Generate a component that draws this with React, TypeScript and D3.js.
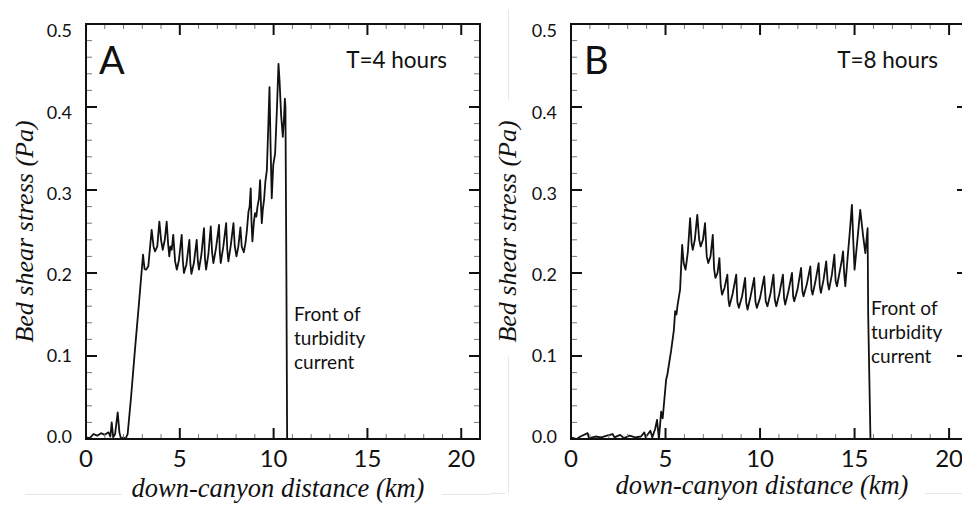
import React from "react";
import * as d3 from "d3";

// ---------- data ----------
const distA = [0, 0.2, 0.4, 0.6, 0.8, 1.0, 1.2, 1.3, 1.37, 1.45, 1.55, 1.69, 1.78, 1.87, 2.0, 2.1, 2.22, 2.4, 2.6, 2.81, 3.04, 3.12, 3.2, 3.32, 3.5, 3.6, 3.68, 3.8, 3.91, 4.0, 4.09, 4.2, 4.3, 4.38, 4.44, 4.5, 4.57, 4.65, 4.75, 4.84, 4.95, 5.1, 5.16, 5.22, 5.35, 5.51, 5.56, 5.62, 5.75, 5.9, 5.96, 6.02, 6.15, 6.29, 6.34, 6.4, 6.52, 6.65, 6.72, 6.79, 6.93, 7.09, 7.13, 7.18, 7.32, 7.47, 7.53, 7.59, 7.72, 7.86, 7.93, 8.02, 8.12, 8.23, 8.3, 8.41, 8.5, 8.57, 8.66, 8.72, 8.78, 8.82, 8.87, 8.95, 9.01, 9.08, 9.14, 9.22, 9.28, 9.33, 9.37, 9.43, 9.49, 9.56, 9.64, 9.72, 9.78, 9.84, 9.9, 9.98, 10.08, 10.18, 10.26, 10.32, 10.4, 10.49, 10.55, 10.6, 10.63, 10.68, 10.72, 21];
const stressA = [0.002, 0.001, 0.006, 0.004, 0.007, 0.005, 0.008, 0.003, 0.02, 0.002, 0.006, 0.032, 0.008, 0.0, 0.002, 0.0, 0.006, 0.05, 0.105, 0.16, 0.222, 0.205, 0.204, 0.208, 0.252, 0.232, 0.226, 0.232, 0.262, 0.24, 0.228, 0.24, 0.262, 0.234, 0.22, 0.232, 0.228, 0.246, 0.214, 0.204, 0.215, 0.246, 0.215, 0.2, 0.21, 0.24, 0.212, 0.199, 0.212, 0.24, 0.215, 0.204, 0.222, 0.254, 0.218, 0.204, 0.222, 0.256, 0.225, 0.212, 0.23, 0.258, 0.226, 0.212, 0.232, 0.26, 0.228, 0.214, 0.234, 0.26, 0.232, 0.22, 0.232, 0.255, 0.232, 0.225, 0.236, 0.25, 0.274, 0.28, 0.302, 0.262, 0.238, 0.262, 0.272, 0.268, 0.28, 0.29, 0.312, 0.28, 0.26, 0.278, 0.288, 0.31, 0.324, 0.38, 0.424, 0.35, 0.29, 0.33, 0.344, 0.4, 0.452, 0.43, 0.39, 0.364, 0.385, 0.41, 0.4, 0.2, 0.0, 0.0];

const distB = [0, 0.3, 0.5, 0.88, 0.95, 1.3, 1.6, 1.9, 2.2, 2.3, 2.6, 2.8, 3.1, 3.4, 3.7, 3.88, 3.95, 4.2, 4.3, 4.45, 4.55, 4.65, 4.77, 4.85, 5.03, 5.1, 5.3, 5.44, 5.51, 5.58, 5.63, 5.77, 5.88, 5.96, 6.06, 6.18, 6.3, 6.38, 6.44, 6.55, 6.68, 6.78, 6.86, 6.98, 7.09, 7.18, 7.26, 7.38, 7.5, 7.57, 7.64, 7.75, 7.85, 7.92, 7.99, 8.12, 8.27, 8.33, 8.38, 8.55, 8.74, 8.8, 8.88, 9.05, 9.21, 9.27, 9.34, 9.5, 9.69, 9.76, 9.83, 10.0, 10.22, 10.3, 10.39, 10.55, 10.71, 10.78, 10.86, 11.02, 11.21, 11.27, 11.33, 11.5, 11.69, 11.75, 11.81, 11.98, 12.17, 12.24, 12.3, 12.47, 12.66, 12.72, 12.78, 12.93, 13.1, 13.16, 13.22, 13.36, 13.5, 13.58, 13.65, 13.8, 13.93, 14.0, 14.07, 14.2, 14.33, 14.39, 14.45, 14.51, 14.63, 14.75, 14.86, 14.93, 15.0, 15.15, 15.3, 15.45, 15.57, 15.69, 15.72, 15.84, 21];
const stressB = [0.002, 0.0, 0.003, 0.007, 0.001, 0.003, 0.002, 0.004, 0.006, 0.002, 0.005, 0.001, 0.004, 0.002, 0.003, 0.008, 0.002, 0.01, 0.002, 0.012, 0.023, 0.0, 0.033, 0.025, 0.071, 0.078, 0.107, 0.131, 0.154, 0.15, 0.16, 0.18, 0.234, 0.212, 0.204, 0.225, 0.266, 0.236, 0.228, 0.24, 0.27, 0.24, 0.232, 0.24, 0.26, 0.22, 0.212, 0.22, 0.246, 0.205, 0.194, 0.2, 0.218, 0.185, 0.174, 0.182, 0.198, 0.168, 0.16, 0.175, 0.198, 0.165, 0.158, 0.172, 0.194, 0.164, 0.156, 0.172, 0.194, 0.165, 0.158, 0.17, 0.196, 0.166, 0.16, 0.175, 0.198, 0.168, 0.16, 0.175, 0.198, 0.17, 0.162, 0.178, 0.2, 0.172, 0.166, 0.18, 0.206, 0.178, 0.172, 0.186, 0.208, 0.18, 0.174, 0.19, 0.212, 0.184, 0.176, 0.192, 0.214, 0.188, 0.18, 0.198, 0.222, 0.19, 0.184, 0.2, 0.216, 0.226, 0.2, 0.184, 0.218, 0.25, 0.282, 0.24, 0.204, 0.24, 0.276, 0.245, 0.224, 0.254, 0.15, 0.0, 0.0];

const xTickValues = [0, 5, 10, 15, 20];
const yTickValues = [0, 0.1, 0.2, 0.3, 0.4, 0.5];
const yTickLabels = ["0.0", "0.1", "0.2", "0.3", "0.4", "0.5"];
const panelLetters = ["A", "B"];
const timeLabels = ["T=4 hours", "T=8 hours"];
const frontLabelLines = ["Front of", "turbidity", "current"];
const xTitle = "down-canyon distance (km)";
const yTitle = "Bed shear stress (Pa)";

const SANS = "Lato, 'Open Sans', sans-serif";
const SERIF = "'Liberation Serif', 'DejaVu Serif', serif";

type PanelProps = {
  left: number;
  width: number;
  dist: number[];
  stress: number[];
  letter: string;
  time: string;
  timeRight: number;
  frontX: number;
  frontY: number;
  xTitleX: number;
  xTitleY: number;
  yTitleX: number;
};

const TOP = 24;
const BOTTOM = 439;

function Panel(p: PanelProps) {
  const x = d3.scaleLinear().domain([0, 21]).range([p.left, p.left + p.width]);
  const y = d3.scaleLinear().domain([0, 0.5]).range([BOTTOM, TOP]);
  const yLab = d3.scaleLinear().domain([0, 0.5]).range([437, 31]);
  const line = d3
    .line<number>()
    .x((d, i) => x(p.dist[i]))
    .y((d) => y(d))
    .curve(d3.curveLinear);
  const minorX = d3.range(0, 22, 1).filter((v) => v % 5 !== 0);
  const minorY = d3.range(0, 26, 1).map((v) => v * 0.02).filter((v, i) => i % 5 !== 0);
  const right = p.left + p.width;
  return (
    <g>
      <path d={line(p.stress) || ""} fill="none" stroke="#111" strokeWidth={1.8} strokeLinejoin="round" />
      {minorX.map((v) => (
        <g key={"mx" + v} stroke="#777" strokeWidth={1}>
          <line x1={x(v)} x2={x(v)} y1={BOTTOM} y2={BOTTOM - 5} />
          <line x1={x(v)} x2={x(v)} y1={TOP} y2={TOP + 5} />
        </g>
      ))}
      {minorY.map((v, i) => (
        <g key={"my" + i} stroke="#777" strokeWidth={1}>
          <line x1={p.left} x2={p.left + 6} y1={y(v)} y2={y(v)} />
          <line x1={right} x2={right - 6} y1={y(v)} y2={y(v)} />
        </g>
      ))}
      {xTickValues.map((v) => (
        <g key={"Mx" + v} stroke="#111" strokeWidth={2}>
          <line x1={x(v)} x2={x(v)} y1={BOTTOM} y2={BOTTOM - 11} />
          <line x1={x(v)} x2={x(v)} y1={TOP} y2={TOP + 11} />
        </g>
      ))}
      {yTickValues.map((v) => (
        <g key={"My" + v} stroke="#111" strokeWidth={2}>
          <line x1={p.left} x2={p.left + 11} y1={y(v)} y2={y(v)} />
          <line x1={right} x2={right - 11} y1={y(v)} y2={y(v)} />
        </g>
      ))}
      <rect x={p.left} y={TOP} width={p.width} height={BOTTOM - TOP} fill="none" stroke="#111" strokeWidth={2} />
      {xTickValues.map((v) => (
        <text key={"lx" + v} x={x(v)} y={467} textAnchor="middle" fontFamily={SANS} fontSize={24} fill="#111">
          {String(v)}
        </text>
      ))}
      {yTickValues.map((v, i) => (
        <text key={"ly" + v} x={p.left - 14} y={yLab(v)} dy="0.35em" textAnchor="end" fontFamily={SANS} fontSize={18} fill="#111">
          {yTickLabels[i]}
        </text>
      ))}
      <text x={p.left + 13} y={74} fontFamily={SANS} fontSize={38} fill="#111">
        {p.letter}
      </text>
      <text x={p.timeRight} y={68} textAnchor="end" fontFamily={SANS} fontSize={22.5} fill="#111">
        {p.time}
      </text>
      {frontLabelLines.map((s, i) => (
        <text key={s} x={p.frontX} y={p.frontY + i * 24} fontFamily={SANS} fontSize={19} fill="#111">
          {s}
        </text>
      ))}
      <text x={p.xTitleX} y={p.xTitleY} textAnchor="middle" fontFamily={SERIF} fontStyle="italic" fontSize={26.5} fill="#111">
        {xTitle}
      </text>
      <text
        transform={`translate(${p.yTitleX},${(TOP + BOTTOM) / 2}) rotate(-90)`}
        textAnchor="middle"
        fontFamily={SERIF}
        fontStyle="italic"
        fontSize={26}
        fill="#111"
      >
        {yTitle}
      </text>
    </g>
  );
}

export default function App() {
  return (
    <svg
      width={962}
      height={505}
      viewBox="0 0 962 505"
      style={{ position: "absolute", left: 0, top: 0, background: "#fff" }}
    >
      <rect x={0} y={0} width={962} height={505} fill="#fff" />
      <g stroke="#e6e6e6" strokeWidth={1}>
        <line x1={25} x2={122} y1={494.5} y2={494.5} />
        <line x1={442} x2={490} y1={494.5} y2={494.5} />
        <line x1={490} x2={505} y1={493.5} y2={493.5} />
        <line x1={925} x2={962} y1={493.5} y2={493.5} />
        <line x1={508.5} x2={508.5} y1={10} y2={100} />
        <line x1={508.5} x2={508.5} y1={357} y2={493} />
      </g>
      <Panel
        left={86}
        width={394}
        dist={distA}
        stress={stressA}
        letter={panelLetters[0]}
        time={timeLabels[0]}
        timeRight={447}
        frontX={294}
        frontY={321}
        xTitleX={278}
        xTitleY={497}
        yTitleX={33}
      />
      <Panel
        left={571}
        width={397}
        dist={distB}
        stress={stressB}
        letter={panelLetters[1]}
        time={timeLabels[1]}
        timeRight={938}
        frontX={871}
        frontY={315}
        xTitleX={762}
        xTitleY={494}
        yTitleX={516}
      />
    </svg>
  );
}
